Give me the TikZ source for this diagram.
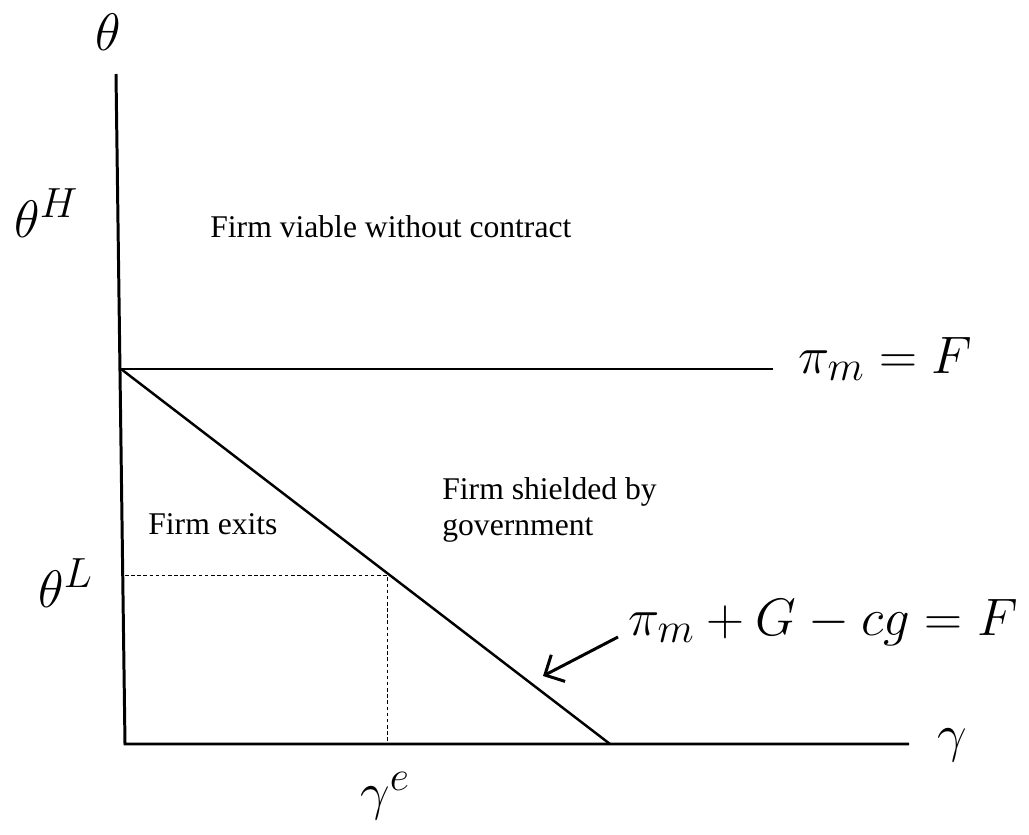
\RequirePackage{fix-cm}
\documentclass[tikz,border=0pt]{standalone}
\usepackage[no-math]{fontspec}
\setmainfont{Liberation Serif}
\usepackage{amsmath}
\usetikzlibrary{arrows.meta}
\DeclareMathSizes{30}{30}{24}{18}

\begin{document}
\begin{tikzpicture}[x=0.02cm,y=-0.02cm,line join=miter]
    % styles
    \tikzstyle{axis}=[line width=1.7pt]
    \tikzstyle{curve}=[line width=1.4pt]
    \tikzstyle{guide}=[dash pattern=on 2pt off 1.5pt,line width=0.5pt]
    \tikzstyle{mlabel}=[inner sep=0pt,font=\fontsize{30}{36}\selectfont]
    \tikzstyle{region}=[inner sep=0pt,align=left,font=\fontsize{18}{20.5}\selectfont]

    \useasboundingbox (0,0) rectangle (1029,835);

    % points of the diagram
    \coordinate (top) at (116,74);
    \coordinate (O) at (125,744);
    \coordinate (xend) at (909,744);
    \coordinate (K) at (121,369);
    \coordinate (Kend) at (773,369);
    \coordinate (D) at (610,744);
    \coordinate (E) at (387,575);
    \coordinate (Ey) at (125,575);
    \coordinate (Ex) at (387,744);
    \coordinate (arrS) at (618,637);
    \coordinate (arrT) at (543,676);

    % axis labels
    \node[mlabel] (theta) at (108,32) {$\theta$};
    \node[mlabel,anchor=base west] (thetaH) at (14,237) {$\theta^H$};
    \node[mlabel,anchor=base west] (thetaL) at (38,607) {$\theta^L$};
    \node[mlabel] (gamma) at (952,745) {$\gamma$};
    \node[mlabel] (gammaE) at (385,796) {$\gamma^e$};
    \node[mlabel,anchor=base west] (piF) at (798,373) {$\pi_m = F$};
    \node[mlabel,anchor=base east] (piGF) at (1018,635) {$\pi_m + G - cg = F$};

    % regions
    \node[region,anchor=base west] (viable) at (210,237) {Firm viable without contract};
    \node[region,anchor=north west] (shield) at (442,477) {Firm shielded by\\government};
    \node[region,anchor=base west] (exits) at (148,534) {Firm exits};

    % lines
    \draw[axis] (top) -- (O) -- (xend);
    \draw[axis] (K) -- (Kend);
    \draw[curve] (K) -- (D);
    \draw[guide] (Ey) -- (E) -- (Ex);
    \draw[axis,-{Straight Barb[length=3mm,width=6mm]}] (arrS) -- (arrT);
\end{tikzpicture}
\end{document}
